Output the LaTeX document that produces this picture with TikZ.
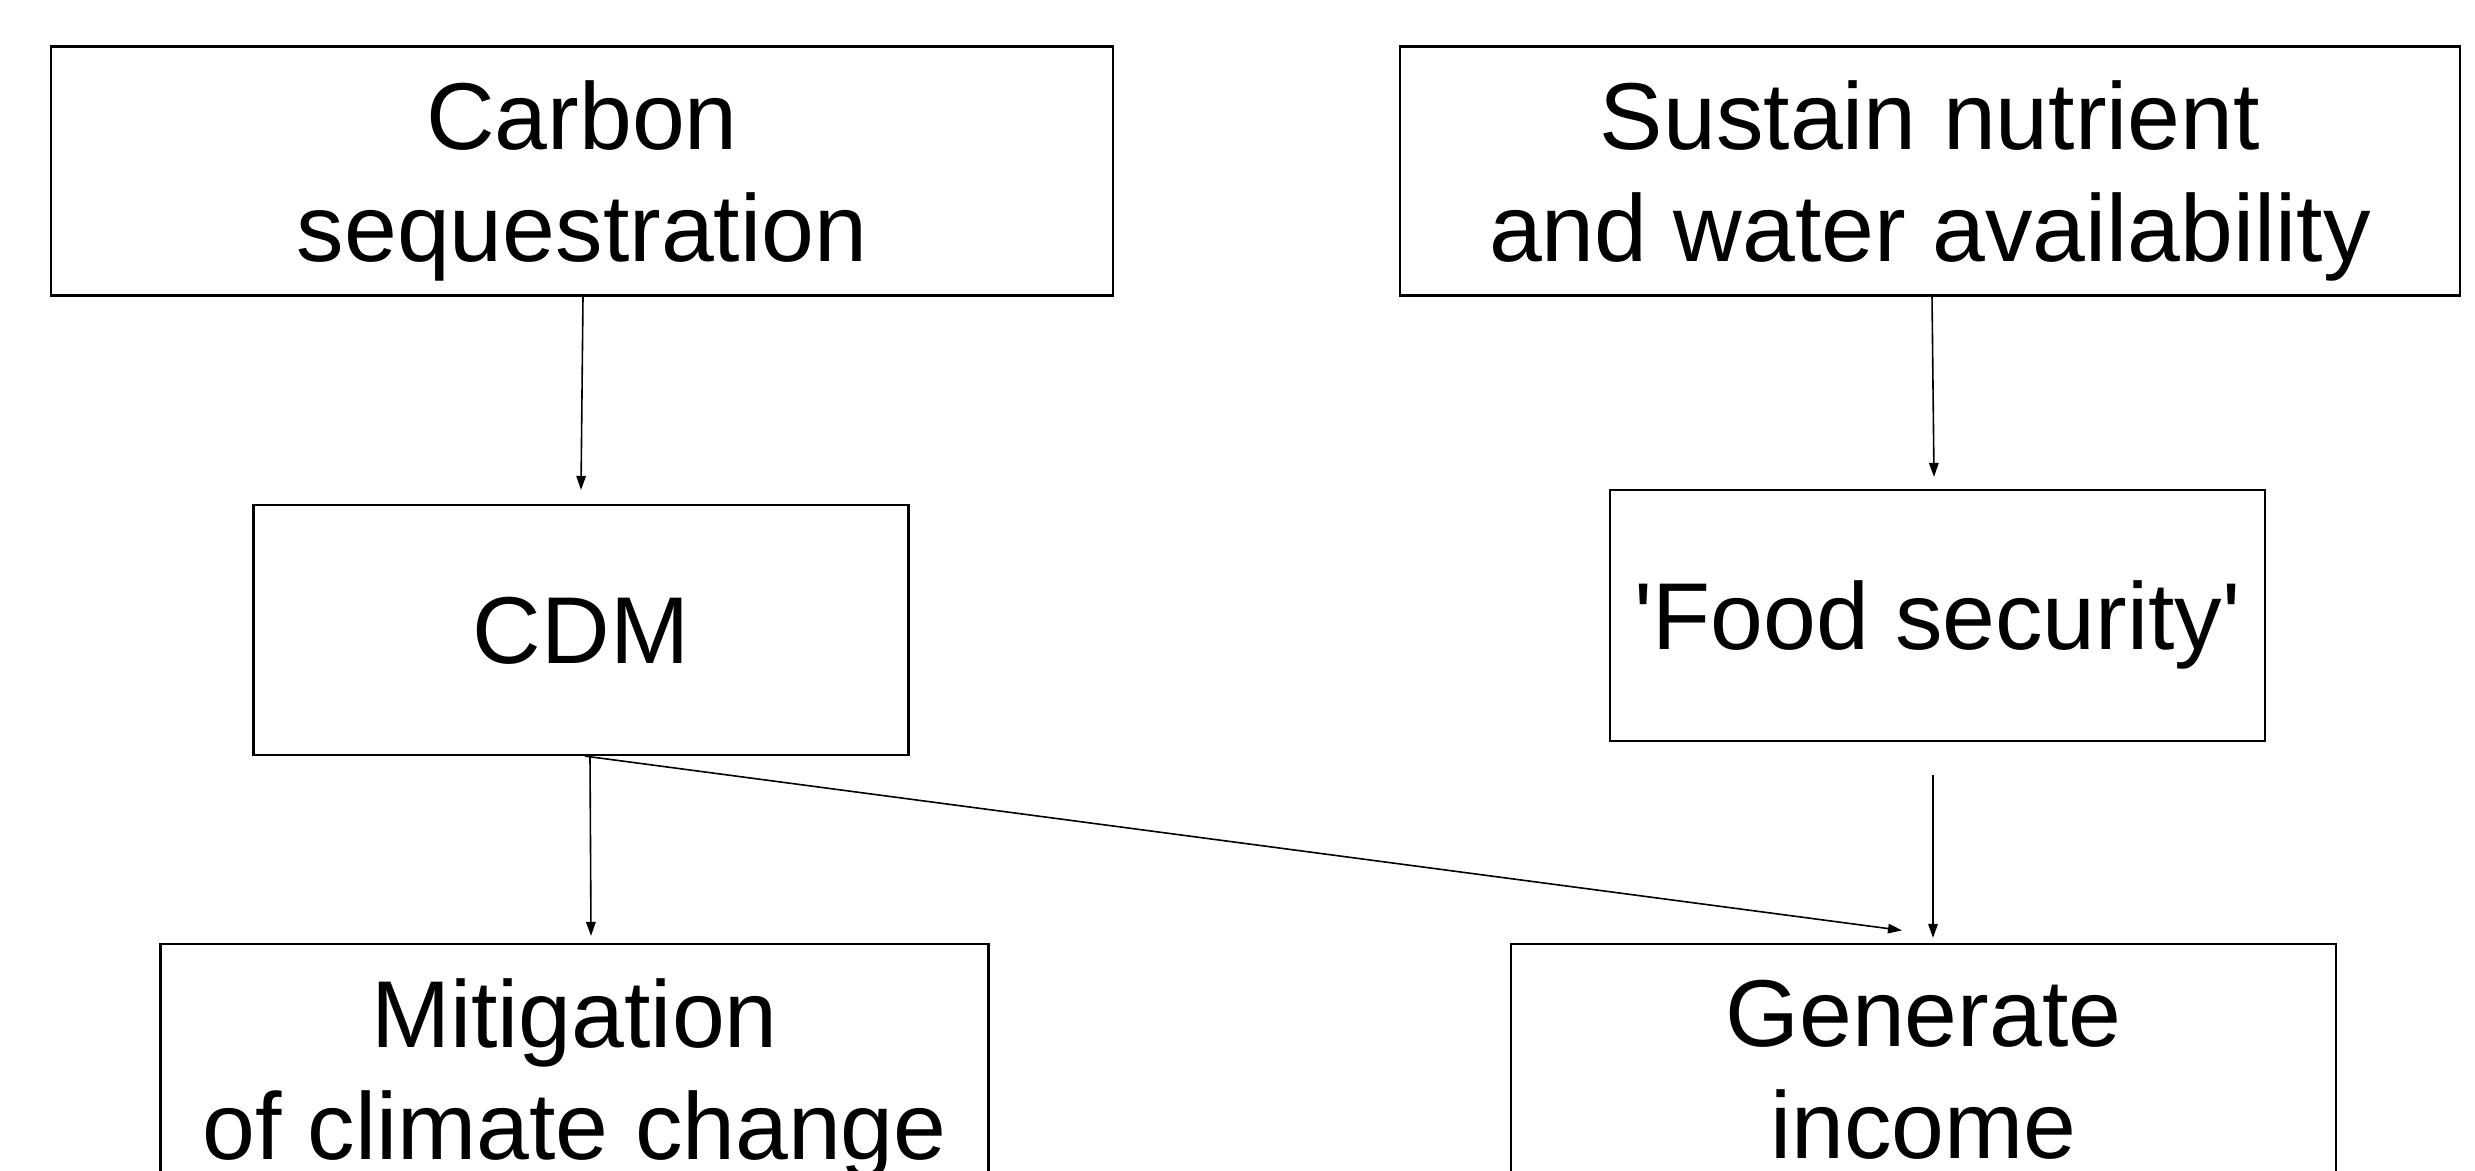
\documentclass[tikz,border=0pt]{standalone}
\usepackage{fontspec}
\setmainfont{Liberation Sans}[Ligatures=TeXOff]
\usetikzlibrary{arrows.meta}
\begin{document}
\begin{tikzpicture}[x=1pt,y=-1pt,
  box/.style={draw, line width=2.2pt, inner sep=0pt, align=center, text depth=0pt,
    font=\fontsize{95}{112}\selectfont},
  conn/.style={line width=1.6pt, -{Triangle[length=14pt,width=9.5pt]}}]
\useasboundingbox (0,0) rectangle (2475,1170);
\clip (0,0) rectangle (2475,1170);
\fill[white] (0,0) rectangle (2475,1170);
\node[box, minimum width=1062pt, minimum height=249pt] (carbon) at (582,171) {Carbon\\sequestration};
\node[box, minimum width=1060pt, minimum height=249pt] (sustain) at (1930,171) {Sustain nutrient\\and water availability};
\node[box, minimum width=655pt, minimum height=250pt] (cdm) at (581,630) {CDM};
\node[box, minimum width=655pt, minimum height=250.7pt] (food) at (1937.4,615.4) {'Food security'};
\node[box, minimum width=828pt, minimum height=250pt] (mit) at (574.5,1069) {Mitigation\\of climate change};
\node[box, minimum width=825pt, minimum height=250pt] (gen) at (1923.4,1069) {Generate\\income};
\draw[conn] ([xshift=1pt]carbon.south) -- ([yshift=14pt]cdm.north);
\draw[conn] ([xshift=2pt]sustain.south) -- ([xshift=-3.4pt,yshift=12pt]food.north);
\draw[conn] ([xshift=9pt]cdm.south) -- ([xshift=16.5pt,yshift=7pt]mit.north);
\draw[conn] ([xshift=4pt]cdm.south) -- ([xshift=-21.4pt,yshift=12.5pt]gen.north);
\draw[conn] ([xshift=-4.4pt,yshift=-33pt]food.south) -- ([xshift=9.6pt,yshift=5pt]gen.north);
\end{tikzpicture}
\end{document}
